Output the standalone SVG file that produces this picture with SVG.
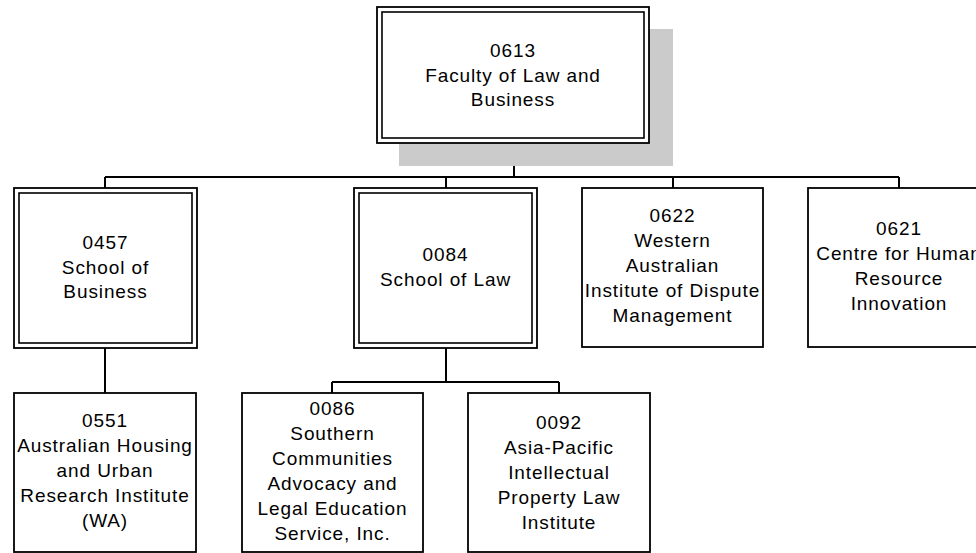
<svg xmlns="http://www.w3.org/2000/svg" width="976" height="553" viewBox="0 0 976 553">
<style>
  .box { fill: #fff; stroke: #000; stroke-width: 1.8; }
  .dbl { fill: none; stroke: #000; stroke-width: 1.6; }
  .shadow { fill: #cbcbcb; stroke: none; }
  .conn { fill: none; stroke: #000; stroke-width: 2; }
  text { font-family: "Liberation Sans", Arial, sans-serif; font-size: 19px; fill: #000; text-anchor: middle; letter-spacing: 0.9px; }
</style>
<rect width="976" height="553" fill="#fff"/>
<g id="connectors">
  <path class="conn" d="M514 143 V177 M105 177 H899 M105 177 V188 M446 177 V188 M673 177 V188 M899 177 V188"/>
  <path class="conn" d="M105 348 V393"/>
  <path class="conn" d="M446 348 V382 M332 382 H559 M332 382 V393 M559 382 V393"/>
</g>
<g id="n0613">
  <rect class="shadow" x="399" y="29" width="274" height="137"/>
  <rect class="box" x="377" y="7" width="272" height="136"/>
  <rect class="dbl" x="382" y="12" width="262" height="126"/>
  <text x="513" y="57">0613</text>
  <text x="513" y="81.5">Faculty of Law and</text>
  <text x="513" y="106">Business</text>
</g>
<g id="n0457">
  <rect class="box" x="14" y="188" width="183" height="160"/>
  <rect class="dbl" x="19" y="193" width="173" height="150"/>
  <text x="105.5" y="249">0457</text>
  <text x="105.5" y="273.5">School of</text>
  <text x="105.5" y="298">Business</text>
</g>
<g id="n0084">
  <rect class="box" x="354" y="188" width="183" height="160"/>
  <rect class="dbl" x="359" y="193" width="173" height="150"/>
  <text x="445.5" y="261">0084</text>
  <text x="445.5" y="285.5">School of Law</text>
</g>
<g id="n0622">
  <rect class="box" x="582" y="188" width="181" height="159"/>
  <text x="672.5" y="222">0622</text>
  <text x="672.5" y="247">Western</text>
  <text x="672.5" y="272">Australian</text>
  <text x="672.5" y="297">Institute of Dispute</text>
  <text x="672.5" y="322">Management</text>
</g>
<g id="n0621">
  <rect class="box" x="808" y="188" width="182" height="159"/>
  <text x="899" y="235">0621</text>
  <text x="899" y="260">Centre for Human</text>
  <text x="899" y="285">Resource</text>
  <text x="899" y="310">Innovation</text>
</g>
<g id="n0551">
  <rect class="box" x="14" y="393" width="182" height="159"/>
  <text x="105" y="427">0551</text>
  <text x="105" y="452">Australian Housing</text>
  <text x="105" y="477">and Urban</text>
  <text x="105" y="502">Research Institute</text>
  <text x="105" y="527">(WA)</text>
</g>
<g id="n0086">
  <rect class="box" x="242" y="393" width="181" height="159"/>
  <text x="332.5" y="414.5">0086</text>
  <text x="332.5" y="439.5">Southern</text>
  <text x="332.5" y="464.5">Communities</text>
  <text x="332.5" y="489.5">Advocacy and</text>
  <text x="332.5" y="514.5">Legal Education</text>
  <text x="332.5" y="539.5">Service, Inc.</text>
</g>
<g id="n0092">
  <rect class="box" x="468" y="393" width="182" height="159"/>
  <text x="559" y="429">0092</text>
  <text x="559" y="454">Asia-Pacific</text>
  <text x="559" y="479">Intellectual</text>
  <text x="559" y="504">Property Law</text>
  <text x="559" y="529">Institute</text>
</g>
</svg>
